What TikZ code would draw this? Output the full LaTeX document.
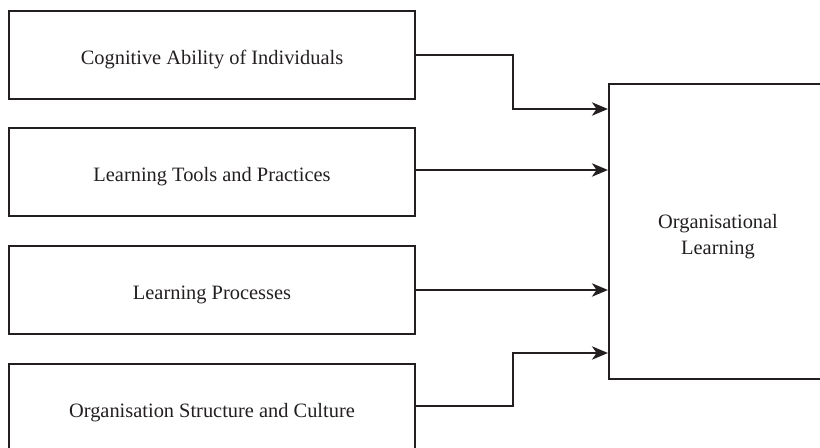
\documentclass[tikz,border=0pt]{standalone}
\usepackage{fontspec}
\setmainfont{Liberation Serif}
\usetikzlibrary{arrows.meta}
\definecolor{ink}{HTML}{231F20}
\begin{document}
\begin{tikzpicture}[x=0.75pt,y=-0.75pt,
  box/.style={draw=ink,line width=1.6pt,rectangle,text=ink,align=center,
    font=\fontsize{15.3}{19.5}\selectfont},
  leftbox/.style={box,minimum width=304.5pt,minimum height=66pt,
    execute at begin node={\rule{0pt}{18pt}}},
  arr/.style={draw=ink,line width=1.6pt,-{Stealth[length=12pt,width=10pt,inset=3.5pt]}}]
\useasboundingbox (0,0) rectangle (820,448);
\clip (0,0) rectangle (820,448);
\node[leftbox] (b1) at (212,55) {Cognitive Ability of Individuals};
\node[leftbox] (b2) at (212,172) {Learning Tools and Practices};
\node[leftbox] (b3) at (212,290) {Learning Processes};
\node[leftbox] (b4) at (212,408) {Organisation Structure and Culture};
\node[box,minimum width=163.5pt,minimum height=221.25pt] (R) at (718,231.5) {\rule{0pt}{18pt}Organisational\\Learning};
\coordinate (k1) at (513,109);
\coordinate (k4) at (513,353);
\draw[arr] (b1.east) -| (k1) -- (k1 -| R.west);
\draw[arr] (b2.east) ++(0,-2) coordinate (s2) -- (s2 -| R.west);
\draw[arr] (b3.east) -- (b3.east -| R.west);
\draw[arr] (b4.east) ++(0,-2) coordinate (s4) -| (k4) -- (k4 -| R.west);
\end{tikzpicture}
\end{document}
